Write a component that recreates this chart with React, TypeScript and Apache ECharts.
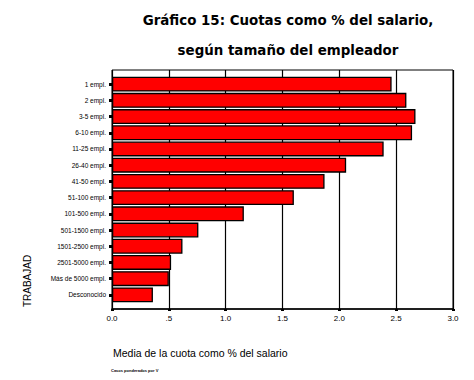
import React, { useEffect, useRef } from "react";
import * as echarts from "echarts";

const categories = [
  "1 empl.",
  "2 empl.",
  "3-5 empl.",
  "6-10 empl.",
  "11-25 empl.",
  "26-40 empl.",
  "41-50 empl.",
  "51-100 empl.",
  "101-500 empl.",
  "501-1500 empl.",
  "1501-2500 empl.",
  "2501-5000 empl.",
  "Más de 5000 empl.",
  "Desconocido",
];
const values = [2.46, 2.59, 2.67, 2.64, 2.39, 2.06, 1.87, 1.6, 1.16, 0.76, 0.62, 0.52, 0.5, 0.36];
const xTickLabels = ["0.0", ".5", "1.0", "1.5", "2.0", "2.5", "3.0"];
const titleLines = ["Gráfico 15: Cuotas como % del salario,", "según tamaño del empleador"];
const xAxisName = "Media de la cuota como % del salario";
const yAxisName = "TRABAJAD";
const footnote = "Casos ponderados por V";

export default function App() {
  const ref = useRef<HTMLDivElement>(null);
  useEffect(() => {
    if (!ref.current) return;
    const chart = echarts.init(ref.current, null, { renderer: "svg" });
    chart.setOption({
      animation: false,
      backgroundColor: "#ffffff",
      title: {
        text: titleLines.join("\n"),
        left: 283,
        textAlign: "center",
        top: 0,
        textStyle: {
          fontFamily: "DejaVu Sans",
          fontWeight: 900,
          fontSize: 13.4,
          lineHeight: 30,
          color: "#000",
        },
      },
      grid: [
        { left: 112, right: 21, top: 70, bottom: 71, show: true, borderColor: "#000", borderWidth: 1, backgroundColor: "transparent" },
        { left: 112, right: 21, top: 76, bottom: 77 },
      ],
      xAxis: [
        {
          gridIndex: 0,
          type: "value",
          min: 0,
          max: 3,
          interval: 0.5,
          axisLine: { show: true, lineStyle: { color: "#000", width: 1.5 } },
          axisTick: { show: true, length: 2, lineStyle: { color: "#000", width: 3 } },
          splitLine: { show: true, lineStyle: { color: "#000", width: 1.2 } },
          axisLabel: {
            color: "#000",
            fontFamily: "Liberation Sans",
            fontSize: 8,
            margin: 5,
            formatter: (v: number) => xTickLabels[Math.round(v / 0.5)] ?? "",
          },
        },
        {
          gridIndex: 1,
          type: "value",
          min: 0,
          max: 3,
          show: false,
        },
      ],
      yAxis: [
        {
          gridIndex: 1,
          type: "category",
          data: categories,
          inverse: true,
          axisLine: { show: false },
          axisTick: { show: true, alignWithLabel: true, length: 3, lineStyle: { color: "#000", width: 3 } },
          axisLabel: {
            color: "#000",
            fontFamily: "Liberation Sans",
            fontSize: 6.5,
            margin: 6,
          },
        },
        {
          gridIndex: 0,
          type: "value",
          min: 0,
          max: 1,
          show: false,
        },
      ],
      series: [
        {
          type: "bar",
          xAxisIndex: 1,
          yAxisIndex: 0,
          data: values,
          barCategoryGap: "8%",
          itemStyle: { color: "#ff0000", borderColor: "#000", borderWidth: 1.3 },
        },
      ],
      graphic: [
        {
          type: "text",
          x: 27,
          y: 281,
          rotation: Math.PI / 2,
          style: {
            text: yAxisName,
            fill: "#000",
            font: "10px 'Liberation Sans'",
            align: "center",
            verticalAlign: "middle",
          },
        },
        {
          type: "text",
          x: 113,
          y: 353,
          style: {
            text: xAxisName,
            fill: "#000",
            font: "10.5px 'Liberation Sans'",
            align: "left",
            verticalAlign: "middle",
          },
        },
        {
          type: "text",
          x: 111,
          y: 370,
          style: {
            text: footnote,
            fill: "#000",
            font: "bold 4px 'Liberation Sans'",
            align: "left",
            verticalAlign: "middle",
          },
        },
      ],
    });
    return () => chart.dispose();
  }, []);
  return <div ref={ref} style={{ width: 474, height: 380, position: "absolute", left: 0, top: 0 }} />;
}
